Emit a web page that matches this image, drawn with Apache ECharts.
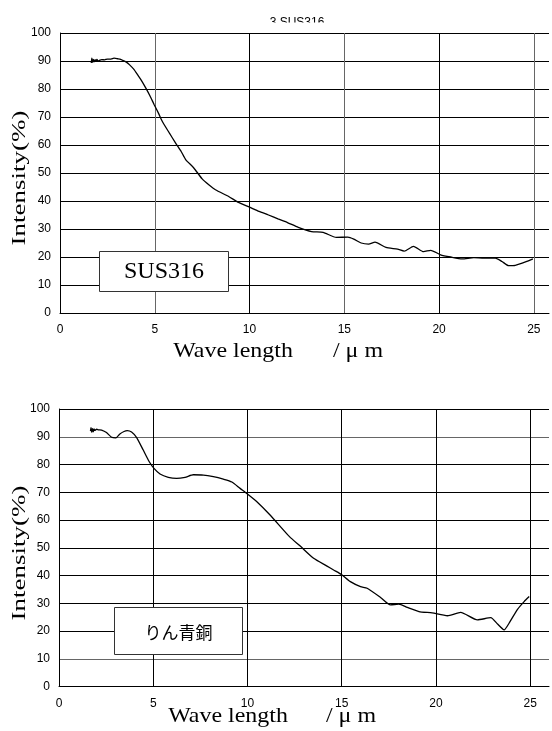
<!DOCTYPE html>
<html>
<head>
<meta charset="utf-8">
<script src="https://cdn.jsdelivr.net/npm/echarts@6/dist/echarts.min.js"></script>
<style>
  html, body { margin: 0; padding: 0; background: #fff; }
  #chart { width: 552px; height: 731px; }
</style>
</head>
<body>
<div id="chart"></div>
<script>
// SUS316 spectrum (wave length um / intensity %)
const susX = [1.65, 1.68, 1.72, 1.76, 1.8, 1.85, 1.9, 1.95, 2.0, 2.08, 2.2, 2.35, 2.5, 2.69, 2.85, 3.04, 3.2, 3.31, 3.5, 3.66,
  3.9, 4.09, 4.3, 4.53, 4.75, 4.97, 5.2, 5.4, 5.75, 6.1, 6.4, 6.63, 7.06, 7.5, 7.85, 8.2, 8.9, 9.42, 10, 10.5,
  11, 11.5, 12, 12.57, 13.27, 13.88, 14.58, 15.19, 15.5, 15.89, 16.28, 16.62, 17.2, 17.81, 18.16, 18.65, 19.18, 19.56, 20.08, 20.61,
  21.22, 21.83, 22.36, 22.97, 23.32, 23.67, 24.02, 24.63, 24.95]
const susY = [89.3, 91.0, 89.5, 90.6, 89.7, 90.5, 89.9, 90.6, 90.0, 90.2, 90.5, 90.4, 90.7, 90.7, 91.0, 90.8, 90.6, 90.2, 89.6, 88.7,
  87.0, 85.1, 83.0, 80.3, 77.5, 74.4, 71.3, 68.4, 64.5, 60.7, 57.6, 54.8, 51.8, 47.9, 45.8, 44.0, 41.6, 39.5, 37.8, 36.3,
  35.0, 33.6, 32.3, 30.6, 29.1, 28.8, 27.0, 27.1, 26.4, 25.0, 24.6, 25.3, 23.4, 22.8, 22.1, 23.8, 21.9, 22.4, 20.8, 20.0,
  19.3, 19.75, 19.6, 19.6, 18.4, 16.9, 17.0, 18.4, 19.3]

// りん青銅 spectrum
const pbX = [1.67, 1.7, 1.74, 1.78, 1.82, 1.86, 1.9, 2.0, 2.1, 2.26, 2.52, 2.79, 3.02, 3.23, 3.45, 3.62, 3.85, 4.12, 4.47, 4.79,
  5.04, 5.36, 5.8, 6.24, 6.69, 7.13, 7.66, 8.19, 8.72, 9.17, 9.61, 10.0, 10.5, 11.2, 12.23, 12.8, 13.51, 14.22, 14.57, 15.02,
  15.46, 16.0, 16.35, 17.06, 17.59, 18.03, 18.48, 19.1, 19.8, 20.61, 21.31, 22.2, 22.91, 23.27, 23.62, 23.88, 24.33, 24.68, 24.95]
const pbY = [92.0, 93.3, 91.6, 92.9, 91.8, 92.8, 92.3, 92.7, 92.5, 92.4, 91.5, 89.8, 89.6, 91.0, 91.9, 92.2, 91.7, 89.7, 85.2, 81.0,
  78.6, 76.6, 75.4, 75.0, 75.4, 76.3, 76.2, 75.6, 74.7, 73.7, 71.4, 69.4, 66.6, 61.8, 54.0, 50.6, 46.2, 43.4, 42.0, 40.2,
  37.8, 36.0, 35.4, 32.1, 29.4, 29.7, 28.5, 27.0, 26.5, 25.5, 26.7, 24.0, 24.8, 22.5, 20.4, 22.8, 27.8, 30.6, 32.4]

const title = '3 SUS316'
const xTitle = 'Wave length'
const xUnit = '/ μ m'
const yTitle = 'Intensity(%)'
const labels = ['SUS316', 'りん青銅']

const pairs = (xs, ys) => xs.map((x, i) => [x, ys[i]])
const sans = 'Liberation Sans, Arial, sans-serif'
const serif = 'Liberation Serif, Times New Roman, serif'

function xAxisOpt(gridIndex, max, lineColors) {
  return {
    type: 'value', gridIndex, min: 0, max, interval: 5,
    axisLine: { show: true, onZero: false, lineStyle: { color: '#000', width: 1 } },
    axisTick: { show: false },
    axisLabel: {
      color: '#000', fontFamily: sans, fontSize: 12, margin: 11,
      formatter: v => (v % 5 === 0 ? String(v) : '')
    },
    splitLine: { show: true, lineStyle: { color: lineColors, width: 1 } }
  }
}

function yAxisOpt(gridIndex, lineColors) {
  return {
    type: 'value', gridIndex, min: 0, max: 100, interval: 10,
    axisLine: { show: true, lineStyle: { color: '#000', width: 1 } },
    axisTick: { show: false },
    axisLabel: { color: '#000', fontFamily: sans, fontSize: 12, margin: 9 },
    splitLine: { show: true, lineStyle: { color: lineColors, width: 1 } }
  }
}

const B = '#000', G = '#666', T = 'rgba(0,0,0,0)'

const option = {
  animation: false,
  backgroundColor: '#fff',
  grid: [
    { left: 60, top: 33, width: 492, height: 280 },
    { left: 59, top: 409, width: 490, height: 277.5 }
  ],
  xAxis: [
    xAxisOpt(0, 25.8, [B, G, B, G, B, G, T]),
    xAxisOpt(1, 26, [B, B, B, B, B, B, T])
  ],
  yAxis: [
    yAxisOpt(0, [B]),
    yAxisOpt(1, [B, G, B, B, B, B, B, B, B, G, B])
  ],
  series: [
    {
      type: 'line', xAxisIndex: 0, yAxisIndex: 0, data: pairs(susX, susY),
      showSymbol: false, smooth: 0.2, lineStyle: { color: '#000', width: 1.3 }
    },
    {
      type: 'line', xAxisIndex: 1, yAxisIndex: 1, data: pairs(pbX, pbY),
      showSymbol: false, smooth: 0.2, lineStyle: { color: '#000', width: 1.3 }
    }
  ],
  graphic: [
    { type: 'text', x: 297, y: 17, z: 10, style: { text: title, font: '12px ' + sans, fill: '#000', textAlign: 'center', textVerticalAlign: 'top' } },
    { type: 'rect', z: 11, shape: { x: 200, y: 22.5, width: 200, height: 10 }, style: { fill: '#fff' } },

    { type: 'text', x: 233, y: 351, scaleX: 1.14, z: 10, style: { text: xTitle, font: '21px ' + serif, fill: '#000', textAlign: 'center', textVerticalAlign: 'middle' } },
    { type: 'text', x: 358, y: 351, scaleX: 1.14, z: 10, style: { text: xUnit, font: '21px ' + serif, fill: '#000', textAlign: 'center', textVerticalAlign: 'middle' } },
    { type: 'text', x: 228, y: 716, scaleX: 1.14, z: 10, style: { text: xTitle, font: '21px ' + serif, fill: '#000', textAlign: 'center', textVerticalAlign: 'middle' } },
    { type: 'text', x: 351, y: 716, scaleX: 1.14, z: 10, style: { text: xUnit, font: '21px ' + serif, fill: '#000', textAlign: 'center', textVerticalAlign: 'middle' } },

    { type: 'text', x: 20, y: 178, rotation: Math.PI / 2, scaleX: 1.5, z: 10, style: { text: yTitle, font: '18px ' + serif, fill: '#000', textAlign: 'center', textVerticalAlign: 'middle' } },
    { type: 'text', x: 20, y: 553, rotation: Math.PI / 2, scaleX: 1.5, z: 10, style: { text: yTitle, font: '18px ' + serif, fill: '#000', textAlign: 'center', textVerticalAlign: 'middle' } },

    { type: 'rect', z: 10, shape: { x: 99.5, y: 251.5, width: 129, height: 40 }, style: { fill: '#fff', stroke: '#333', lineWidth: 1 } },
    { type: 'text', x: 164, y: 272, z: 11, style: { text: labels[0], font: '24px ' + serif, fill: '#000', textAlign: 'center', textVerticalAlign: 'middle' } },
    { type: 'rect', z: 10, shape: { x: 114.5, y: 607.5, width: 128, height: 47 }, style: { fill: '#fff', stroke: '#333', lineWidth: 1 } },
    { type: 'text', x: 178.5, y: 633, z: 11, style: { text: labels[1], font: '17px "Noto Sans CJK JP", sans-serif', fill: '#000', textAlign: 'center', textVerticalAlign: 'middle' } }
  ]
}

const chart = echarts.init(document.getElementById('chart'), null, { renderer: 'canvas' })
chart.setOption(option)
</script>
</body>
</html>
